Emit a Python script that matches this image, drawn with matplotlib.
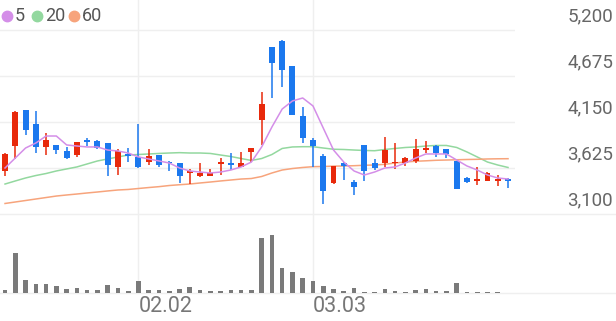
import matplotlib
matplotlib.use("Agg")
import matplotlib.pyplot as plt
from matplotlib.lines import Line2D

plt.rcParams["font.family"] = ["Roboto", "DejaVu Sans"]

# 일봉 데이터 (시가, 고가, 저가, 종가)
opens = [3591, 3880, 4287, 4124, 3861, 3888, 3822, 3773, 3945, 3937,
         3914, 3640, 3781, 3754, 3690, 3773, 3690, 3679, 3565, 3534,
         3534, 3667, 3686, 3640, 3804, 4173, 5003, 5078, 4789, 4218,
         3945, 3765, 3450, 3679, 3469, 3888, 3686, 3679, 3679, 3686,
         3708, 3830, 3880, 3842, 3708, 3507, 3480, 3480, 3480, 3496]
highs = [3796, 4275, 4290, 4276, 4021, 3888, 3861, 3920, 3971, 3940,
         3915, 3842, 3850, 4124, 3842, 3775, 3705, 3680, 3610, 3686,
         3614, 3736, 3793, 3811, 3855, 4489, 5005, 5080, 4790, 4318,
         3964, 3785, 3650, 3697, 3488, 3890, 3724, 3982, 3914, 3745,
         3953, 3933, 3882, 3845, 3710, 3526, 3640, 3583, 3545, 3507]
lows = [3537, 3728, 4002, 3800, 3773, 3781, 3724, 3747, 3880, 3842,
        3537, 3545, 3697, 3630, 3659, 3640, 3594, 3457, 3442, 3526,
        3530, 3545, 3602, 3640, 3697, 3888, 4420, 4546, 4225, 3907,
        3633, 3211, 3448, 3488, 3317, 3480, 3602, 3633, 3610, 3648,
        3679, 3793, 3754, 3736, 3383, 3450, 3431, 3478, 3420, 3393]
closes = [3781, 4268, 4059, 3861, 3945, 3830, 3736, 3918, 3922, 3857,
          3659, 3822, 3762, 3633, 3765, 3659, 3679, 3537, 3594, 3565,
          3565, 3690, 3663, 3679, 3850, 4355, 4820, 4743, 4230, 3964,
          3876, 3363, 3648, 3648, 3405, 3594, 3629, 3830, 3697, 3743,
          3842, 3850, 3793, 3785, 3385, 3469, 3496, 3565, 3499, 3480]

# 이동평균선
ma5 = [3625, 3739, 3853, 3910, 3990, 3990, 3888, 3876, 3865, 3865,
       3830, 3819, 3796, 3751, 3728, 3705, 3682, 3625, 3591, 3579,
       3568, 3579, 3602, 3637, 3693, 3865, 4093, 4298, 4390, 4424,
       4333, 4081, 3830, 3693, 3591, 3545, 3579, 3625, 3637, 3682,
       3739, 3785, 3785, 3785, 3716, 3648, 3602, 3545, 3511, 3499]
ma20 = [3442, 3477, 3511, 3539, 3562, 3591, 3614, 3637, 3671, 3705,
        3728, 3751, 3773, 3779, 3785, 3791, 3796, 3800, 3796, 3796,
        3791, 3773, 3756, 3733, 3711, 3733, 3779, 3848, 3865, 3868,
        3868, 3853, 3839, 3836, 3830, 3825, 3822, 3836, 3848, 3859,
        3865, 3876, 3882, 3882, 3859, 3808, 3751, 3693, 3659, 3631]
ma60 = [3220, 3237, 3254, 3271, 3288, 3305, 3317, 3328, 3340, 3351,
        3363, 3374, 3380, 3391, 3402, 3412, 3425, 3434, 3442, 3454,
        3465, 3477, 3488, 3499, 3505, 3528, 3568, 3602, 3619, 3631,
        3640, 3642, 3646, 3648, 3651, 3656, 3659, 3667, 3682, 3693,
        3702, 3707, 3713, 3716, 3719, 3722, 3724, 3728, 3730, 3731]

# 거래량
volume = [30, 400, 126, 90, 90, 66, 40, 53, 33, 27,
          80, 47, 23, 123, 33, 33, 17, 40, 63, 27,
          17, 17, 33, 33, 27, 550, 580, 250, 210, 155,
          117, 67, 40, 23, 50, 10, 10, 40, 20, 10,
          27, 40, 17, 17, 103, 10, 7, 7, 7, 5]

price_ticks = [3100, 3625, 4150, 4675, 5200]
date_labels = {13: "02.02", 30: "03.03"}

UP = "#e8290b"
DOWN = "#1b78ee"
GRID = "#efefef"

W, H = 616, 321
fig = plt.figure(figsize=(W / 100, H / 100), dpi=100)

ax = fig.add_axes([0, 107 / H, 515 / W, 214 / H])
axv = fig.add_axes([0, 28 / H, 515 / W, 79 / H])

idx = list(range(len(closes)))

# 캔들
for i in idx:
    o, h, l, c = opens[i], highs[i], lows[i], closes[i]
    col = UP if c >= o else DOWN
    ax.vlines(i, l, h, color=col, lw=1.1, zorder=3)
    body = max(abs(c - o), 16)
    ax.bar(i, body, bottom=min(o, c), width=0.58, color=col, zorder=4)

ax.plot(idx, ma5, color="#d48ee8", lw=1.1, zorder=5)
ax.plot(idx, ma20, color="#93d89f", lw=1.1, zorder=2)
ax.plot(idx, ma60, color="#f7a47c", lw=1.1, zorder=2)

axv.bar(idx, volume, width=0.45, color="#7a7a7a", zorder=3)

for a in (ax, axv):
    a.set_xlim(-0.49, 49.68)
    for s in a.spines.values():
        s.set_visible(False)
    a.set_xticks([])
    a.set_yticks([])
    a.patch.set_alpha(0)
    for k in date_labels:
        a.axvline(k, color=GRID, lw=1, zorder=0)

ax.set_ylim(3100, 5542)
axv.set_ylim(0, 790)

for v in price_ticks[1:]:
    ax.axhline(v, color=GRID, lw=1, zorder=0)

for y in (214, 293):
    fig.add_artist(Line2D([0, 1], [1 - y / H, 1 - y / H], transform=fig.transFigure,
                          color=GRID, lw=1, zorder=0))

# 가격 라벨
for v in price_ticks:
    ax.annotate(f"{v:,}", xy=(1, v), xycoords=("axes fraction", "data"),
                xytext=(98, 14), textcoords="offset pixels",
                ha="right", va="center", fontsize=13.5, color="#666666")

# 날짜 라벨
for k, lab in date_labels.items():
    axv.annotate(lab, xy=(k, 0), xycoords="data", xytext=(0, -14),
                 textcoords="offset pixels", ha="left", va="center",
                 fontsize=15.5, color="#777777")

# 범례
legend = [("5", "#d48ee8", 7), ("20", "#93d89f", 37), ("60", "#f7a47c", 74)]
for lab, col, px in legend:
    fig.add_artist(Line2D([px / W], [1 - 16 / H], marker="o", markersize=7.5,
                          color=col, transform=fig.transFigure))
    fig.text((px + 8) / W, 1 - 16 / H, lab, ha="left", va="center",
             fontsize=13, color="#555555")

fig.savefig("out.png", dpi=100)
